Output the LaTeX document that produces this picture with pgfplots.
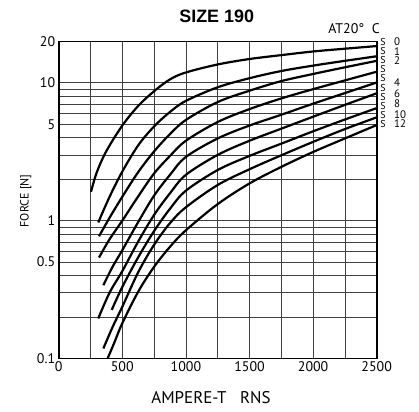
\documentclass[border=0pt]{standalone}
\usepackage{fontspec}
\setmainfont{PT Sans}
\newfontfamily\titlefont{Liberation Sans}
\usepackage{pgfplots}
\pgfplotsset{compat=1.18}
\begin{document}
\begin{tikzpicture}
\useasboundingbox (0,0) rectangle (419bp,412bp);
\begin{axis}[
  at={(58.7bp,53.6bp)}, anchor=south west,
  scale only axis, width=318bp, height=317bp,
  ymode=log, xmin=0, xmax=2500, ymin=0.1, ymax=20,
  xtick={0,250,...,2500},
  xticklabels={0,,500,,1000,,1500,,2000,,2500},
  ytick={0.1,0.2,0.3,0.4,0.5,0.6,0.7,0.8,0.9,1,2,3,4,5,6,7,8,9,10,20},
  yticklabels={0.1,,,,0.5,,,,,1,,,,5,,,,,10,20},
  grid=major, major grid style={black!75, line width=0.8bp},
  major tick length=0pt,
  axis line style={line width=1.6bp},
  tick label style={font=\fontsize{14}{14}\selectfont},
  /pgf/number format/assume math mode=true,
  curve/.style={black, solid, line width=2.2bp, smooth, tension=0.55, mark=none},
  clip=true,
]
% S0
\addplot[curve] coordinates {(254,1.62)(300,2.25)(375,3.2)(500,4.9)(625,6.8)(750,8.7)(875,10.6)(1000,11.9)(1250,13.6)(1500,14.9)(1750,15.9)(2000,16.9)(2250,17.7)(2500,18.5)};
% S1
\addplot[curve] coordinates {(311,0.97)(400,1.49)(500,2.27)(625,3.52)(750,4.83)(875,6.15)(1000,7.40)(1250,9.29)(1500,10.81)(1750,12.19)(2000,13.34)(2250,14.45)(2500,15.6)};
% S2
\addplot[curve] coordinates {(317,0.77)(400,1.05)(500,1.49)(625,2.25)(750,3.18)(875,4.25)(1000,5.38)(1250,7.26)(1500,8.77)(1750,10.3)(2000,11.6)(2250,12.97)(2500,14.45)};
% S4
\addplot[curve] coordinates {(317,0.54)(400,0.733)(500,1.0)(625,1.50)(750,2.2)(875,2.95)(1000,3.8)(1250,5.2)(1500,6.45)(1750,7.71)(2000,9.0)(2250,10.42)(2500,12.05)};
% S6
\addplot[curve] coordinates {(351,0.34)(425,0.465)(500,0.61)(625,0.977)(750,1.52)(875,2.15)(1000,2.9)(1250,3.95)(1500,4.9)(1750,5.87)(2000,7.06)(2250,8.43)(2500,10.07)};
% S8
\addplot[curve] coordinates {(311,0.195)(400,0.30)(500,0.43)(625,0.705)(750,1.1)(875,1.58)(1000,2.15)(1250,3.0)(1500,3.8)(1750,4.65)(2000,5.68)(2250,6.92)(2500,8.4)};
% S10
\addplot[curve] coordinates {(417,0.225)(500,0.33)(625,0.542)(750,0.840)(875,1.22)(1000,1.65)(1250,2.33)(1500,2.95)(1750,3.62)(2000,4.45)(2250,5.42)(2500,6.56)};
% S12a
\addplot[curve] coordinates {(351,0.118)(425,0.17)(500,0.237)(625,0.422)(750,0.668)(875,0.959)(1000,1.25)(1250,1.815)(1500,2.36)(1750,2.98)(2000,3.73)(2250,4.62)(2500,5.62)};
% S12b
\addplot[curve] coordinates {(385,0.1)(440,0.132)(500,0.18)(625,0.305)(750,0.462)(875,0.646)(1000,0.851)(1250,1.318)(1500,1.862)(1750,2.455)(2000,3.15)(2250,3.95)(2500,4.94)};
\end{axis}
\node[font=\titlefont\bfseries\fontsize{18}{18}\selectfont] at (216.7bp,395.5bp) {SIZE 190};
\node[font=\fontsize{14}{14}\selectfont] at (354bp,383bp) {AT20°\ \ C};
\node[font=\fontsize{12}{12}\selectfont, rotate=90] at (25.8bp,211bp) {FORCE [N]};
\node[font=\fontsize{17}{17}\selectfont] at (211bp,14bp) {AMPERE-T\ \ \ RNS};
\foreach \yy in {42,51.1,60.2,69.3,78.4,87.6,96.7,105.8,114.9,124}{
  \node[font=\fontsize{10}{10}\selectfont, inner sep=0pt] at (383bp,{(412-\yy)*1bp}) {S};
}
\foreach \yy/\t in {42/0,51.5/1,61/2,82.5/4,93.5/6,104/8,114.5/10,124/12}{
  \node[font=\fontsize{11}{11}\selectfont, inner sep=0pt, anchor=west] at (394bp,{(412-\yy)*1bp}) {\t};
}
\end{tikzpicture}
\end{document}
